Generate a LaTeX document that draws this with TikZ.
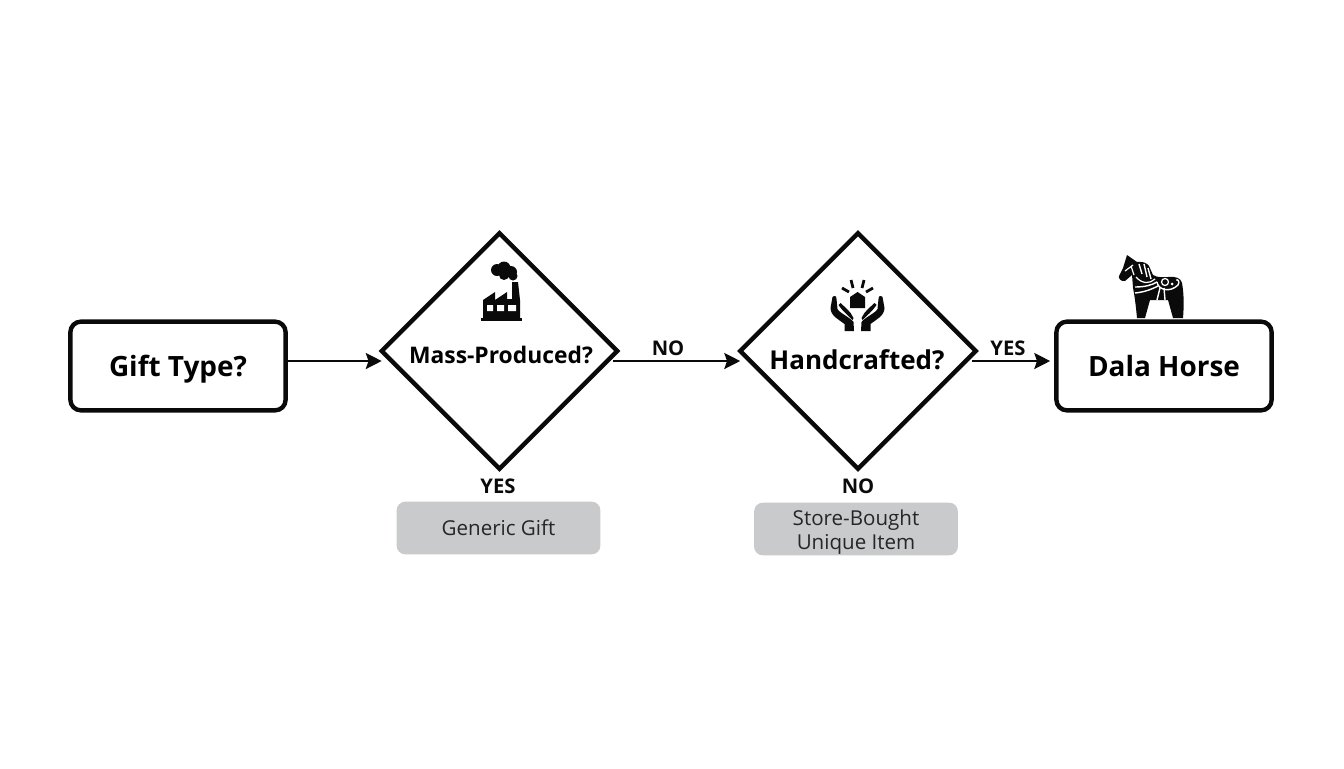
\documentclass[tikz,border=0pt]{standalone}
\usepackage{fontspec}
\setmainfont{Open Sans}
\usetikzlibrary{shapes.geometric}
\usetikzlibrary{calc}
\usetikzlibrary{arrows.meta}
\definecolor{panelgray}{HTML}{C9CACC}
\definecolor{inkblack}{HTML}{0A0A0A}
\tikzset{
    bigbox/.style={draw=inkblack,line width=2.5pt,rounded corners=6pt,minimum width=122.5pt,minimum height=50.5pt,text height=14.5pt,text depth=3pt,font=\bfseries\fontsize{15.9}{18}\selectfont},
    question/.style={draw=inkblack,line width=2.5pt,diamond,aspect=1,minimum size=135pt,inner sep=0pt},
    resultbox/.style={fill=panelgray,rounded corners=5pt,minimum width=116pt,minimum height=30pt,align=center,inner sep=0pt,font=\fontsize{11.7}{13.6}\selectfont,text=black!85},
    flowlabel/.style={font=\bfseries\fontsize{11.5}{13}\selectfont,text=inkblack,inner sep=0pt},
    flow/.style={draw=inkblack,line width=1.6pt,-{Stealth[length=9pt,width=9pt,inset=1.5pt]}},
}
\begin{document}
\begin{tikzpicture}[x=0.02cm,y=-0.02cm]
    \useasboundingbox (0,0) rectangle (1344,768);
    \node[bigbox] (gift) at (178,366) {Gift Type?};
    \node[bigbox] (dala) at (1164,366) {Dala Horse};
    \node[question] (mass) at (499.5,351) {};
    \node[question] (hand) at (858,351) {};
    \node[font=\bfseries\fontsize{13}{15}\selectfont,inner sep=0pt] (masstext) at (501,355) {Mass-Produced?};
    \node[font=\bfseries\fontsize{14.8}{17}\selectfont,inner sep=0pt] (handtext) at (857,360) {Handcrafted?};
    \node[resultbox] (generic) at (498.5,528) {Generic Gift};
    \node[resultbox] (store) at (856,529) {\rule{0pt}{12.5pt}Store-Bought\\Unique Item};
    % labels
    \node[flowlabel] (yesa) at (498,486) {YES};
    \node[flowlabel] (noa) at (858,486) {NO};
    \node[flowlabel] (nob) at (668,348) {NO};
    \node[flowlabel] (yesb) at (1008,348) {YES};
    % arrows
    \coordinate (gifta) at (gift.east |- 0,361);
    \coordinate (massw) at ($(mass.west)+(3,10)$);
    \coordinate (masse) at ($(mass.east)+(-7,10)$);
    \coordinate (handw) at ($(hand.west)+(3,10)$);
    \coordinate (hande) at ($(hand.east)+(-7,10)$);
    \coordinate (dalaw) at ($(dala.west |- 0,361)+(-4,0)$);
    \draw[flow] (gifta) -- (massw);
    \draw[flow] (masse) -- (handw);
    \draw[flow] (hande) -- (dalaw);
    % factory
    \fill[inkblack] (481,318) rectangle (522,321);
    \fill[inkblack] (483,319) -- (483,300) -- (495,292) -- (495,300) -- (507,292) -- (507,299) -- (512,299) -- (512,282) -- (518,282) -- (520,300) -- (520,319) -- cycle;
    \fill[white] (487,305) rectangle (493,311) (497,305) rectangle (504,311) (508,305) rectangle (516,311);
    \fill[inkblack] (497,270) circle (6) (504,268) circle (6.5) (511,272) circle (6) (504,275) circle (5) (513,276) circle (4.5);
    % hands
    \fill[inkblack] (857.5,292) -- (865,297) -- (865,308) -- (850,308) -- (850,297) -- cycle;
    \foreach \s in {1,-1} {
        \begin{scope}[shift={(857.5,0)},xscale=\s]
            \draw[inkblack,line width=1.6pt] (-15.5,288) -- (-8.5,292) (-6.5,280) -- (-4.5,288);
            \fill[inkblack] (-25,297) .. controls (-23,295) and (-21,296) .. (-21,299) -- (-20,309) .. controls (-18,313) and (-8,317) .. (-4,322) -- (-3.5,331) -- (-13,331) -- (-13,324) .. controls (-18,320) and (-27,316) .. (-27,308) -- cycle;
            \fill[inkblack] (-19,305) -- (-17,303) .. controls (-13,307) and (-7,311) .. (-4,318) -- (-5,320) .. controls (-10,315) and (-15,311) .. (-19,305) -- cycle;
        \end{scope}
    }
    % horse
    \fill[inkblack] (1127,255) -- (1137,262) .. controls (1142,261) and (1147,263) .. (1149,266) -- (1153,275) .. controls (1158,278) and (1163,277) .. (1168,277) .. controls (1175,276) and (1181,278) .. (1182,283) .. controls (1184,294) and (1184,306) .. (1183,318) -- (1173,318) -- (1168,300) -- (1150,300) -- (1145,318) -- (1137,318) .. controls (1136,308) and (1135,298) .. (1133,288) -- (1132,275) -- (1125,281) .. controls (1121,282) and (1118,278) .. (1119,276) -- (1123,268) -- cycle;
    \draw[white,line width=0.7pt] (1125,271) -- (1133,265) (1131,266) -- (1134,275);
    \draw[white,line width=0.8pt] (1139,264) -- (1142,274) (1144,264) -- (1147,277) (1148,268) -- (1151,279);
    \draw[white,line width=0.7pt] (1136,277) .. controls (1142,284) and (1150,284) .. (1155,279);
    \draw[white,line width=0.8pt] (1135,287) .. controls (1145,287) and (1152,285) .. (1157,282) (1135,293) .. controls (1146,292) and (1154,288) .. (1158,286);
    \draw[white,line width=0.8pt] (1157,300) -- (1160,288) (1165,300) -- (1164,288);
    \draw[white,line width=0.8pt] (1157,282) .. controls (1158,290) and (1170,293) .. (1178,285) .. controls (1180,282) and (1178,279) .. (1176,280);
    \draw[white,line width=0.7pt] (1165,282) circle (3.5);
    \fill[white] (1172,284) circle (1.5);
\end{tikzpicture}
\end{document}
